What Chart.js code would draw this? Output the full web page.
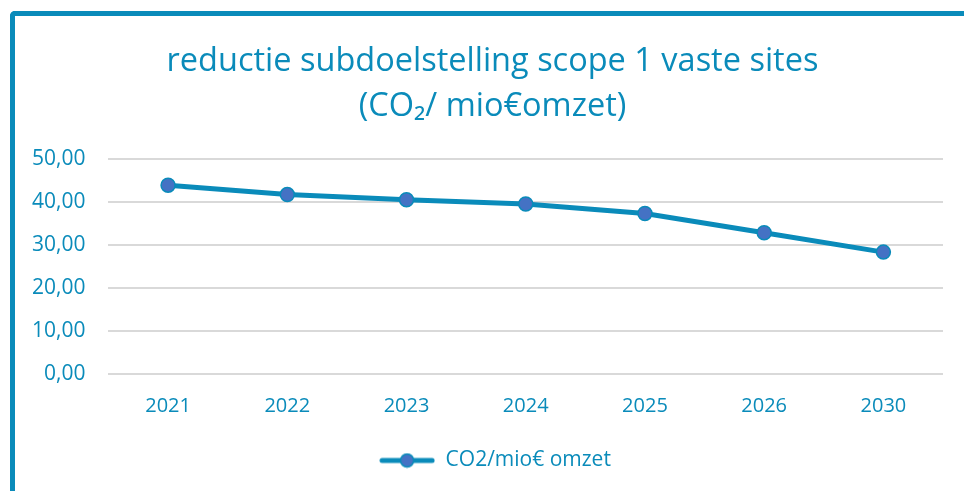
<!DOCTYPE html>
<html lang="nl">
<head>
    <meta charset="UTF-8">
    <title>reductie subdoelstelling scope 1</title>
    <script src="https://cdn.jsdelivr.net/npm/chart.js"></script>
    <style>
        html, body { margin: 0; padding: 0; background: #fff; overflow: hidden; }
        .frame {
            position: absolute; left: 10px; top: 11px;
            width: 960px; height: 490px;
            border-left: 5px solid #0A8BBA; border-top: 5px solid #0A8BBA;
            border-top-left-radius: 5px;
        }
        .chart-box { position: absolute; left: -6px; top: 0; width: 960px; height: 475px; }
    </style>
</head>
<body>

<div class="frame">
    <div class="chart-box">
        <canvas id="co2Chart"></canvas>
    </div>
</div>

<script>
    // jaren en waarden (CO2 / mio€ omzet)
    var jaren = ['2021', '2022', '2023', '2024', '2025', '2026', '2030'];
    var waarden = [44.0, 41.8, 40.6, 39.6, 37.4, 32.9, 28.4];
    var titelRegels = ['reductie subdoelstelling scope 1 vaste sites', '(CO\u2082/ mio\u20AComzet)'];
    var reeksNaam = 'CO2/mio\u20AC omzet';

    var teal = '#0A8BBA';
    var punt = '#4472C4';

    Chart.defaults.font.family = '"Open Sans", Lato, sans-serif';
    Chart.defaults.color = teal;

    // legendasymbool: lijn met bolletje
    var symbool = document.createElement('canvas');
    symbool.width = 56; symbool.height = 16;
    var sc = symbool.getContext('2d');
    sc.strokeStyle = teal; sc.lineWidth = 5; sc.lineCap = 'round';
    sc.beginPath(); sc.moveTo(3, 8); sc.lineTo(53, 8); sc.stroke();
    sc.beginPath(); sc.arc(28, 8, 6.5, 0, Math.PI * 2);
    sc.fillStyle = punt; sc.fill();
    sc.lineWidth = 1.5; sc.stroke();

    // titel en legenda naar rechts, zoals in het origineel (grafiek loopt rechts door)
    var verschuif = {
        id: 'verschuif',
        afterLayout: function(c) {
            if (c.titleBlock) { c.titleBlock.left += 16.5; c.titleBlock.right += 16.5; }
            if (c.legend) { c.legend.left += 19; c.legend.right += 19; }
        }
    };

    var ctx = document.getElementById('co2Chart').getContext('2d');
    var chart = new Chart(ctx, {
        type: 'line',
        data: {
            labels: jaren,
            datasets: [{
                label: reeksNaam,
                data: waarden,
                borderColor: teal,
                borderWidth: 5,
                pointRadius: 7,
                pointHoverRadius: 7,
                pointBackgroundColor: punt,
                pointBorderColor: teal,
                pointBorderWidth: 1.5,
                tension: 0
            }]
        },
        plugins: [verschuif],
        options: {
            responsive: true,
            maintainAspectRatio: false,
            animation: false,
            layout: { padding: { left: 0, right: 26, top: 20, bottom: 10 } },
            plugins: {
                title: {
                    display: true,
                    text: titelRegels,
                    color: teal,
                    font: { size: 32.5, weight: 'normal', lineHeight: 1.36 },
                    padding: { top: 4, bottom: 31 }
                },
                legend: {
                    position: 'bottom',
                    labels: {
                        usePointStyle: true,
                        pointStyleWidth: 56,
                        color: teal,
                        font: { size: 21 },
                        padding: 12,
                        generateLabels: function(c) {
                            return [{
                                text: reeksNaam,
                                pointStyle: symbool,
                                fillStyle: punt,
                                strokeStyle: teal,
                                lineWidth: 0,
                                fontColor: teal,
                                datasetIndex: 0
                            }];
                        }
                    }
                },
                tooltip: { enabled: false }
            },
            scales: {
                x: {
                    offset: true,
                    grid: { display: false, drawTicks: false },
                    border: { display: false },
                    ticks: { color: teal, font: { size: 20 }, padding: 20 }
                },
                y: {
                    min: 0,
                    max: 50,
                    ticks: {
                        stepSize: 10,
                        color: teal,
                        font: { size: 21 },
                        padding: 23,
                        callback: function(v) { return v.toFixed(2).replace('.', ','); }
                    },
                    grid: { color: '#D9D9D9', lineWidth: 2, drawTicks: false },
                    border: { display: false }
                }
            }
        }
    });
</script>

</body>
</html>
